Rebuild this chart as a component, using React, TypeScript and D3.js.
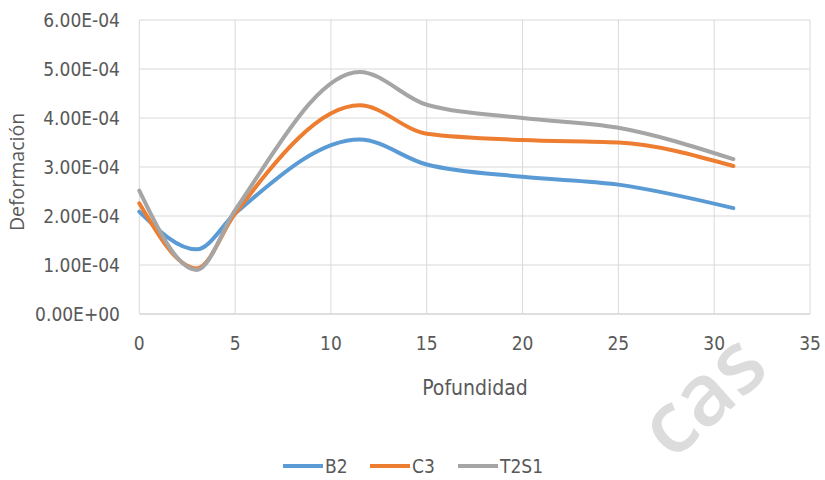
import React from "react";
import * as d3 from "d3";

const depths = [0, 3, 5, 11.5, 15, 20, 25, 31];
const seriesNames = ["B2", "C3", "T2S1"];
const b2Values = [2.09e-4, 1.32e-4, 2.05e-4, 3.56e-4, 3.05e-4, 2.8e-4, 2.64e-4, 2.16e-4];
const c3Values = [2.26e-4, 0.93e-4, 2.05e-4, 4.26e-4, 3.68e-4, 3.55e-4, 3.5e-4, 3.02e-4];
const t2s1Values = [2.52e-4, 0.9e-4, 2.12e-4, 4.94e-4, 4.27e-4, 4.0e-4, 3.8e-4, 3.16e-4];
const seriesColors = ["#5B9BD5", "#ED7D31", "#A5A5A5"];
const xTicks = [0, 5, 10, 15, 20, 25, 30, 35];
const yTicks = [0, 1e-4, 2e-4, 3e-4, 4e-4, 5e-4, 6e-4];
const yTickLabels = ["0.00E+00", "1.00E-04", "2.00E-04", "3.00E-04", "4.00E-04", "5.00E-04", "6.00E-04"];
const xTitle = "Pofundidad";
const yTitle = "Deformación";
const watermark = "cas";

const W = 825;
const H = 480;
const narrow = "'DejaVu Sans Condensed', 'Liberation Sans Narrow', sans-serif";

export default function App() {
  const x = d3.scaleLinear().domain([0, 35]).range([139.3, 810]);
  const y = d3.scaleLinear().domain([0, 6e-4]).range([314, 20]);
  const allValues = [b2Values, c3Values, t2s1Values];
  const line = d3
    .line<[number, number]>()
    .x((d) => x(d[0]))
    .y((d) => y(d[1]))
    .curve(d3.curveMonotoneX);

  const legendX = [283, 370, 458];

  return (
    <svg width={W} height={H} style={{ position: "absolute", left: 0, top: 0, background: "#fff" }}>
      <rect x={0} y={0} width={W} height={H} fill="#fff" />
      <text
        transform="translate(672,462) rotate(-42)"
        fontFamily="'Open Sans', sans-serif"
        fontWeight={600}
        fontSize={86}
        fill="#DCDCDC"
      >
        {watermark}
      </text>
      {yTicks.map((t, i) => (
        <line key={"gy" + i} x1={x(0)} x2={x(35)} y1={y(t)} y2={y(t)} stroke={i === 0 ? "#BFBFBF" : "#D9D9D9"} strokeWidth={1} />
      ))}
      {xTicks.map((t, i) => (
        <line key={"gx" + i} x1={x(t)} x2={x(t)} y1={y(0)} y2={y(6e-4)} stroke="#D9D9D9" strokeWidth={1} />
      ))}
      {yTicks.map((t, i) => (
        <text key={"ly" + i} x={120} y={y(t)} dy="0.35em" textAnchor="end" fontFamily={narrow} fontSize={19} fill="#595959">
          {yTickLabels[i]}
        </text>
      ))}
      {xTicks.map((t, i) => (
        <text key={"lx" + i} x={x(t)} y={343} dy="0.35em" textAnchor="middle" fontFamily={narrow} fontSize={19} fill="#595959">
          {String(t)}
        </text>
      ))}
      <text x={475} y={388} dy="0.35em" textAnchor="middle" fontFamily={narrow} fontSize={21} fill="#595959">
        {xTitle}
      </text>
      <text
        transform={`translate(17,172) rotate(-90)`}
        dy="0.35em"
        textAnchor="middle"
        fontFamily="'Open Sans', sans-serif"
        fontSize={19.5}
        fill="#595959"
      >
        {yTitle}
      </text>
      {allValues.map((vals, si) => (
        <path
          key={"s" + si}
          d={line(depths.map((d, i) => [d, vals[i]] as [number, number])) || ""}
          fill="none"
          stroke={seriesColors[si]}
          strokeWidth={4}
          strokeLinecap="round"
        />
      ))}
      {seriesNames.map((n, i) => (
        <g key={"lg" + i}>
          <line x1={legendX[i]} x2={legendX[i] + 40} y1={466} y2={466} stroke={seriesColors[i]} strokeWidth={4} />
          <text x={legendX[i] + 42} y={466} dy="0.35em" fontFamily={narrow} fontSize={19} fill="#595959">
            {n}
          </text>
        </g>
      ))}
    </svg>
  );
}
